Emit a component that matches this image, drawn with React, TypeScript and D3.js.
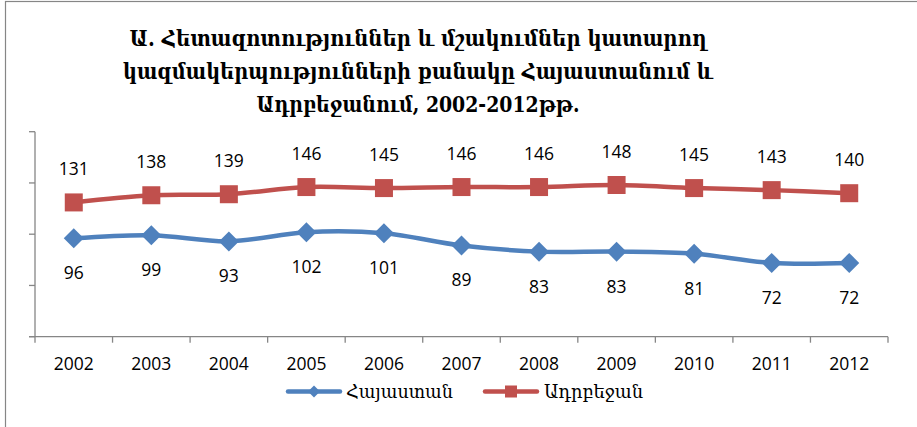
import React from "react";
import * as d3 from "d3";

const years = ["2002", "2003", "2004", "2005", "2006", "2007", "2008", "2009", "2010", "2011", "2012"];
const armenia = [96, 99, 93, 102, 101, 89, 83, 83, 81, 72, 72];
const azerbaijan = [131, 138, 139, 146, 145, 146, 146, 148, 145, 143, 140];
const yTicks = [0, 50, 100, 150, 200];
const titleLines = [
  "Ա. Հետազոտություններ և մշակումներ կատարող",
  "կազմակերպությունների քանակը Հայաստանում և",
  "Ադրբեջանում, 2002-2012թթ.",
];
const seriesNames = ["Հայաստան", "Ադրբեջան"];

const W = 917;
const H = 427;
const plot = { left: 35, right: 888, top: 131.7, bottom: 336.7 };
const BLUE = "#4F81BD";
const RED = "#C0504D";
const AXIS = "#868686";
const ARM_FONT = "'DejaVu Serif', 'DejaVu Sans', 'Noto Sans', serif";
const NUM_FONT = "'Open Sans', 'Liberation Sans', sans-serif";

export default function App() {
  const x = d3.scaleBand<string>().domain(years).range([plot.left, plot.right]).padding(0);
  const y = d3.scaleLinear().domain([0, 200]).range([plot.bottom, plot.top]);
  const cx = (i: number) => (x(years[i]) as number) + x.bandwidth() / 2;

  const line = d3
    .line<number>()
    .x((_, i) => cx(i))
    .y((v) => y(v))
    .curve(d3.curveCardinal.tension(0));

  const diamond = (px: number, py: number, r: number) =>
    `M${px},${py - r}L${px + r},${py}L${px},${py + r}L${px - r},${py}Z`;

  const titleWidths = [577, 590, 323];
  const titleBase = [46, 79, 112];
  const titleCenter = 418;

  const boundaries = years.map((yr) => x(yr) as number).concat([plot.right]);

  return (
    <svg
      width={W}
      height={H}
      style={{ position: "absolute", left: 0, top: 0, background: "#fff" }}
    >
      <rect x={0} y={0} width={W} height={H} fill="#fff" />
      <rect x={5.5} y={1.5} width={W + 20} height={H + 20} fill="none" stroke={AXIS} strokeWidth={1.2} />

      {titleLines.map((t, i) => (
        <text
          key={i}
          x={titleCenter - titleWidths[i] / 2}
          y={titleBase[i]}
          fontFamily={ARM_FONT}
          fontWeight="bold"
          fontSize={23}
          textLength={titleWidths[i]}
          lengthAdjust="spacingAndGlyphs"
          fill="#000"
        >
          {t}
        </text>
      ))}

      {/* axes */}
      <line x1={plot.left} x2={plot.left} y1={plot.top} y2={plot.bottom} stroke={AXIS} strokeWidth={1.3} />
      {yTicks.map((t) => (
        <line key={t} x1={plot.left - 6} x2={plot.left} y1={y(t)} y2={y(t)} stroke={AXIS} strokeWidth={1.3} />
      ))}
      <line x1={plot.left - 6} x2={plot.right} y1={plot.bottom} y2={plot.bottom} stroke={AXIS} strokeWidth={1.3} />
      {boundaries.map((b, i) => (
        <line key={i} x1={b} x2={b} y1={plot.bottom} y2={plot.bottom + 6} stroke={AXIS} strokeWidth={1.3} />
      ))}
      {years.map((yr, i) => (
        <text key={yr} x={cx(i)} y={370} textAnchor="middle" fontFamily={NUM_FONT} fontSize={17.5} fill="#000">
          {yr}
        </text>
      ))}

      {/* series lines */}
      <path d={line(azerbaijan) || ""} fill="none" stroke={RED} strokeWidth={4.5} strokeLinejoin="round" strokeLinecap="round" />
      <path d={line(armenia) || ""} fill="none" stroke={BLUE} strokeWidth={4.5} strokeLinejoin="round" strokeLinecap="round" />

      {azerbaijan.map((v, i) => (
        <rect key={"r" + i} x={cx(i) - 9} y={y(v) - 9} width={18} height={18} fill={RED} />
      ))}
      {armenia.map((v, i) => (
        <path key={"b" + i} d={diamond(cx(i), y(v), 10)} fill={BLUE} />
      ))}

      {/* data labels */}
      {azerbaijan.map((v, i) => (
        <text key={"rl" + i} x={cx(i)} y={y(v) - 27} textAnchor="middle" fontFamily={NUM_FONT} fontSize={17.5} fill="#000">
          {v}
        </text>
      ))}
      {armenia.map((v, i) => (
        <text key={"bl" + i} x={cx(i)} y={y(v) + 41} textAnchor="middle" fontFamily={NUM_FONT} fontSize={17.5} fill="#000">
          {v}
        </text>
      ))}

      {/* legend */}
      <line x1={288} x2={340} y1={391.5} y2={391.5} stroke={BLUE} strokeWidth={4.5} strokeLinecap="round" />
      <path d={diamond(314, 391.5, 6)} fill={BLUE} />
      <text x={346} y={398} fontFamily={ARM_FONT} fontSize={19} textLength={107} lengthAdjust="spacingAndGlyphs" fill="#000">
        {seriesNames[0]}
      </text>
      <line x1={485} x2={537} y1={391.5} y2={391.5} stroke={RED} strokeWidth={4.5} strokeLinecap="round" />
      <rect x={505} y={385.5} width={12} height={12} fill={RED} />
      <text x={544} y={398} fontFamily={ARM_FONT} fontSize={19} textLength={99} lengthAdjust="spacingAndGlyphs" fill="#000">
        {seriesNames[1]}
      </text>
    </svg>
  );
}
